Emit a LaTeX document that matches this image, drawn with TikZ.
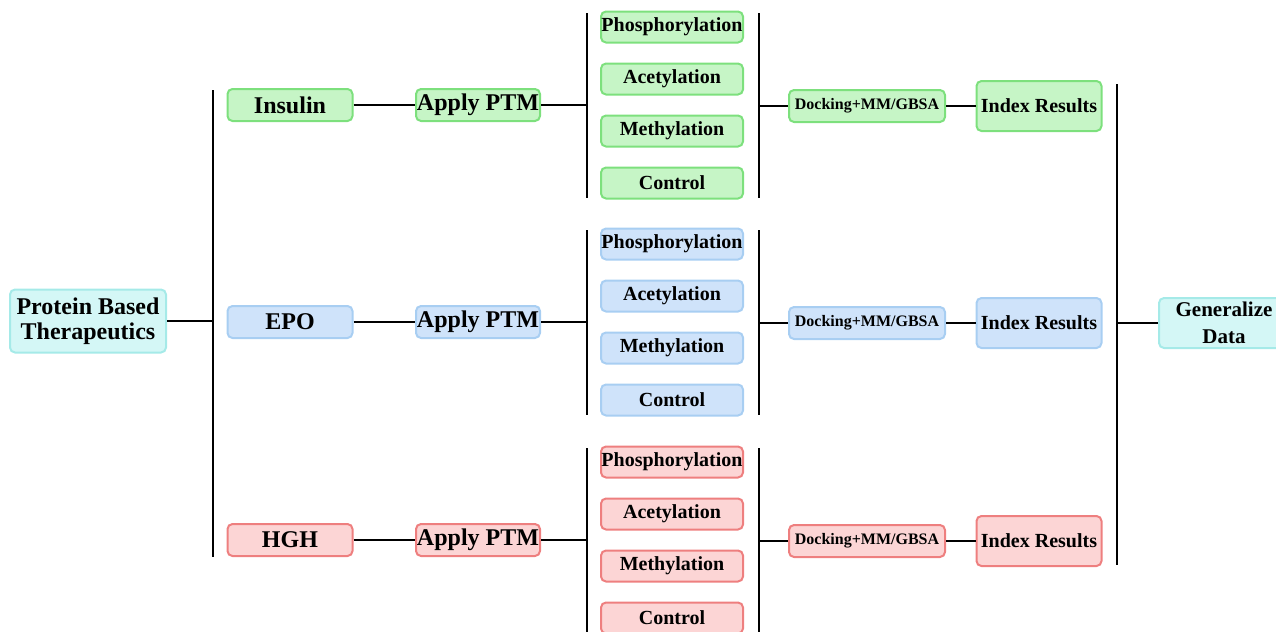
\documentclass[tikz,border=0pt]{standalone}
\usepackage{fontspec}
\setmainfont{Liberation Serif}
\definecolor{fillins}{HTML}{C6F5C6}
\definecolor{lineins}{HTML}{7DE07D}
\definecolor{fillepo}{HTML}{CFE3FA}
\definecolor{lineepo}{HTML}{A8CEF2}
\definecolor{fillhgh}{HTML}{FCD5D5}
\definecolor{linehgh}{HTML}{EE7F7F}
\definecolor{fillend}{HTML}{D4F7F6}
\definecolor{lineend}{HTML}{A5EAE8}

\begin{document}
\begin{tikzpicture}[x=0.5pt, y=-0.5pt, line width=1pt,
	box/.style = {draw, rounded corners=2.5pt, inner sep=0pt, align=center, font=\bfseries},
	bigtxt/.style = {font=\bfseries\fontsize{12}{12.5}\selectfont},
	smalltxt/.style = {font=\bfseries\fontsize{10}{11}\selectfont}]
	\useasboundingbox (0,0) rectangle (1276,632);
	\node [box, bigtxt, fill=fillend, draw=lineend, minimum width=78pt, minimum height=31.5pt] (root) at (88,321) {Protein Based\\Therapeutics};
	\node [box, fill=fillend, draw=lineend, minimum width=65pt, minimum height=25pt, font=\bfseries\fontsize{10.5}{13.5}\selectfont] (gen) at (1224,323) {Generalize\\Data};
	\coordinate (lbar1) at (213,90);
	\coordinate (lbar2) at (213,557);
	\coordinate (rbar1) at (1117,84);
	\coordinate (rbar2) at (1117,565);
	\draw (lbar1) -- (lbar2);
	\draw (rbar1) -- (rbar2);
	\draw (root) -- (root -| lbar1);
	\draw (gen) -- (gen -| rbar1);
	\foreach \r/\y/\lab in {ins/105/Insulin, epo/322/EPO, hgh/540/HGH} {
		\node [box, bigtxt, fill=fill\r, draw=line\r, minimum width=62.5pt, minimum height=16pt] (\r-src) at (290,\y) {\lab};
		\node [box, bigtxt, fill=fill\r, draw=line\r, minimum width=62pt, minimum height=16pt] (\r-ptm) at (478,\y) {Apply PTM};
		\draw (\r-src) -- (\r-ptm);
		% the two bars round the PTM column
		\coordinate (\r-a1) at (587,\y-92);
		\coordinate (\r-a2) at (587,\y+93);
		\coordinate (\r-b1) at (759,\y-92);
		\coordinate (\r-b2) at (759,\y+93);
		\draw (\r-a1) -- (\r-a2);
		\draw (\r-b1) -- (\r-b2);
		\draw (\r-ptm) -- (\r-ptm -| \r-a1);
		\foreach \m [count=\k] in {Phosphorylation, Acetylation, Methylation, Control}
			\node [box, smalltxt, fill=fill\r, draw=line\r, minimum width=71pt, minimum height=15.5pt] (\r-m\k) at (672,\y-78+52*\k-52) {\m};
		\node [box, fill=fill\r, draw=line\r, minimum width=78pt, minimum height=16pt, font=\bfseries\fontsize{8}{9}\selectfont] (\r-dock) at (867,\y+1) {Docking+MM/GBSA};
		\node [box, smalltxt, fill=fill\r, draw=line\r, minimum width=62.5pt, minimum height=25pt] (\r-idx) at (1039,\y+1) {Index Results};
		\draw (\r-dock) -- (\r-dock -| \r-b1);
		\draw (\r-dock) -- (\r-idx);
	}
\end{tikzpicture}
\end{document}
